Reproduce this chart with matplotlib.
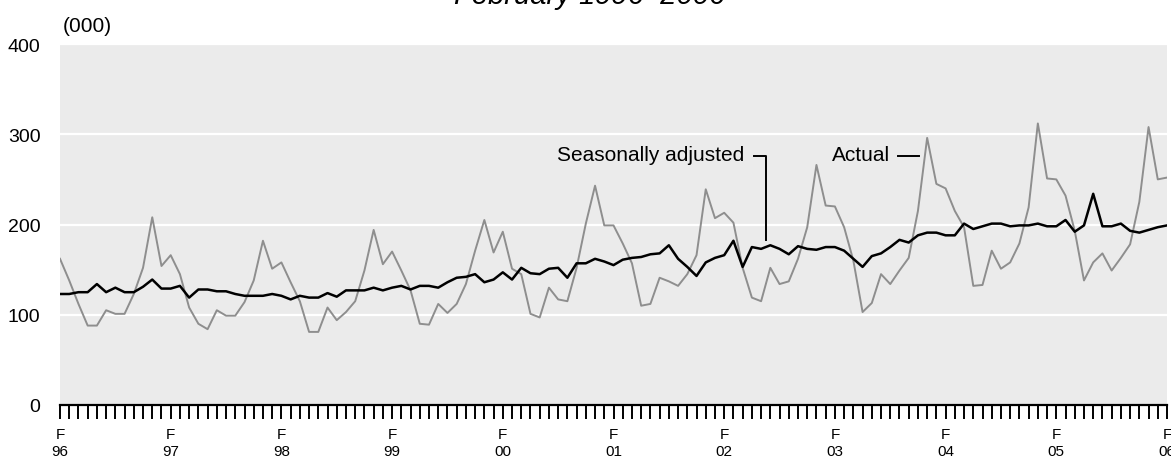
import numpy as np
import matplotlib
matplotlib.use('Agg')
import matplotlib.pyplot as plt

plt.rcParams['font.family'] = ['Liberation Sans', 'DejaVu Sans']

# Monthly series, February 1996 to February 2006 (thousands)
actual = [
    162, 138, 112, 88, 88, 105, 101, 101, 123, 152, 208, 154,
    166, 145, 108, 90, 84, 105, 99, 99, 114, 138, 182, 151,
    158, 136, 115, 81, 81, 108, 94, 103, 115, 149, 194, 156,
    170, 149, 127, 90, 89, 112, 102, 112, 134, 171, 205, 169,
    192, 151, 145, 101, 97, 130, 117, 115, 152, 201, 243, 199,
    199, 179, 157, 110, 112, 141, 137, 132, 145, 166, 239, 207,
    213, 202, 152, 119, 115, 152, 134, 137, 162, 197, 266, 221,
    220, 197, 160, 103, 113, 145, 134, 149, 163, 215, 296, 245,
    240, 215, 197, 132, 133, 171, 151, 158, 179, 219, 312, 251,
    250, 232, 193, 138, 158, 168, 149, 163, 178, 225, 308, 250,
    252,
]
seas_adj = [
    123, 123, 125, 125, 134, 125, 130, 125, 125, 131, 139, 129,
    129, 132, 119, 128, 128, 126, 126, 123, 121, 121, 121, 123,
    121, 117, 121, 119, 119, 124, 120, 127, 127, 127, 130, 127,
    130, 132, 128, 132, 132, 130, 136, 141, 142, 145, 136, 139,
    147, 139, 152, 146, 145, 151, 152, 141, 157, 157, 162, 159,
    155, 161, 163, 164, 167, 168, 177, 162, 153, 143, 158, 163,
    166, 182, 153, 175, 173, 177, 173, 167, 176, 173, 172, 175,
    175, 171, 162, 153, 165, 168, 175, 183, 180, 188, 191, 191,
    188, 188, 201, 195, 198, 201, 201, 198, 199, 199, 201, 198,
    198, 205, 192, 199, 234, 198, 198, 201, 193, 191, 194, 197,
    199,
]
years = ['96', '97', '98', '99', '00', '01', '02', '03', '04', '05', '06']
y_ticks = [0, 100, 200, 300, 400]

months = np.arange(len(actual))

fig = plt.figure(figsize=(11.71, 4.6), dpi=100)
ax = fig.add_axes([60 / 1171, 1 - 406 / 460, 1107 / 1171, 361 / 460])
ax.set_facecolor('#ebebeb')

for v in y_ticks[1:]:
    ax.axhline(v, color='white', lw=1.6, zorder=1)

ax.plot(months, actual, color='#8e8e8e', lw=1.4, zorder=3)
ax.plot(months, seas_adj, color='black', lw=1.8, zorder=4)

ax.set_xlim(0, len(actual) - 1)
ax.set_ylim(0, 400)

# monthly ticks, labels only on Februaries
labels = []
for i in months:
    if i % 12 == 0:
        labels.append('F\n' + years[i // 12])
    else:
        labels.append('')
ax.set_xticks(months)
ax.set_xticklabels(labels, fontsize=11, linespacing=1.25)
ax.tick_params(axis='x', direction='out', length=10, width=1.4, color='black', pad=6)

ax.set_yticks(y_ticks)
ax.set_yticklabels([str(v) for v in y_ticks], fontsize=14)
ax.tick_params(axis='y', length=0, pad=14)

for s in ['top', 'right', 'left']:
    ax.spines[s].set_visible(False)
ax.spines['bottom'].set_linewidth(1.6)
ax.spines['bottom'].set_color('black')

# annotations
ax.text(74.2, 278, 'Seasonally adjusted', fontsize=15, ha='right', va='center')
ax.plot([75.2, 76.5, 76.5], [276, 276, 183], color='black', lw=1.4, zorder=5)
ax.text(83.7, 278, 'Actual', fontsize=15, ha='left', va='center')
ax.plot([90.8, 93.1], [276, 276], color='black', lw=1.4, zorder=5)

fig.text(63 / 1171, 1 - 27 / 460, '(000)', fontsize=15, ha='left', va='center')
fig.text(590 / 1171, 1 - 4 / 460, 'February 1996\u20132006', fontsize=21,
         style='italic', ha='center', va='baseline')

fig.savefig('out.png', dpi=100)
